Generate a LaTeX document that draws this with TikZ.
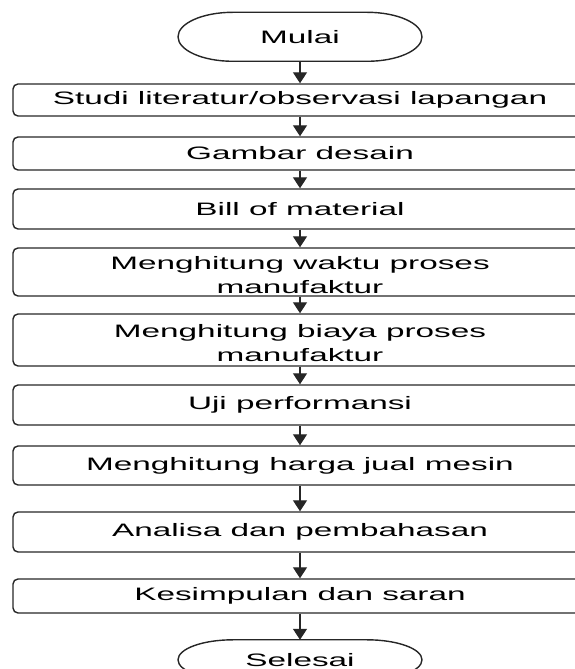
\documentclass[tikz,border=0pt]{standalone}
\usepackage{fontspec}
\newfontfamily\alurfont[FakeStretch=1.85]{Liberation Sans}
\usetikzlibrary{arrows.meta}

\tikzset{
  proses/.style={draw=black!85, line width=1.4pt, rounded corners=5pt,
    minimum width=574pt, inner sep=0pt, align=center,
    font=\alurfont\fontsize{18}{24.5}\selectfont},
  terminal/.style={minimum width=244pt, inner sep=0pt,
    font=\alurfont\fontsize{18}{24.5}\selectfont},
  panah/.style={draw=black!85, line width=1.4pt, -{Triangle[width=14pt,length=11pt]}}
}
% garis tepi terminal (ujung elips), #2 = jari-jari tegak
\newcommand{\stadion}[2]{\draw[draw=black!85, line width=1.4pt] (#1.north) -- ++(67pt,0)
  arc[start angle=90, end angle=-90, x radius=55pt, y radius=#2] -- ++(-134pt,0)
  arc[start angle=270, end angle=90, x radius=55pt, y radius=#2] -- cycle;}

\begin{document}
\begin{tikzpicture}[x=1pt,y=1pt]
\useasboundingbox (0,0) rectangle (575,669);
\clip (0,0) rectangle (575,669);

\node[terminal, minimum height=49pt] (mulai) at (300,632) {Mulai};
\stadion{mulai}{24.5pt}
\node[proses, minimum height=32pt] (studi) at (300,569) {Studi literatur/observasi lapangan};
\node[proses, minimum height=33pt] (gambar) at (300,515.5) {Gambar desain};
\node[proses, minimum height=40pt] (bom) at (300,460) {Bill of material};
\node[proses, minimum height=48pt] (waktu) at (300,397) {\rule{0pt}{19pt}Menghitung waktu proses\\manufaktur};
\node[proses, minimum height=52pt] (biaya) at (300,329) {\rule{0pt}{19pt}Menghitung biaya proses\\manufaktur};
\node[proses, minimum height=40pt] (uji) at (300,264) {Uji performansi};
\node[proses, minimum height=39pt] (harga) at (300,203.5) {Menghitung harga jual mesin};
\node[proses, minimum height=40pt] (analisa) at (300,137) {Analisa dan pembahasan};
\node[proses, minimum height=34pt] (simpul) at (300,73) {Kesimpulan dan saran};
\node[terminal, minimum height=40pt] (selesai) at (300,9) {Selesai};
\stadion{selesai}{20pt}

\draw[panah] (mulai.south) -- (studi.north);
\draw[panah] (studi.south) -- (gambar.north);
\draw[panah] (gambar.south) -- (bom.north);
\draw[panah] (bom.south) -- (waktu.north);
\draw[panah] (waktu.south) -- (biaya.north);
\draw[panah] (biaya.south) -- (uji.north);
\draw[panah] (uji.south) -- (harga.north);
\draw[panah] (harga.south) -- (analisa.north);
\draw[panah] (analisa.south) -- (simpul.north);
\draw[panah] (simpul.south) -- (selesai.north);
\end{tikzpicture}
\end{document}
